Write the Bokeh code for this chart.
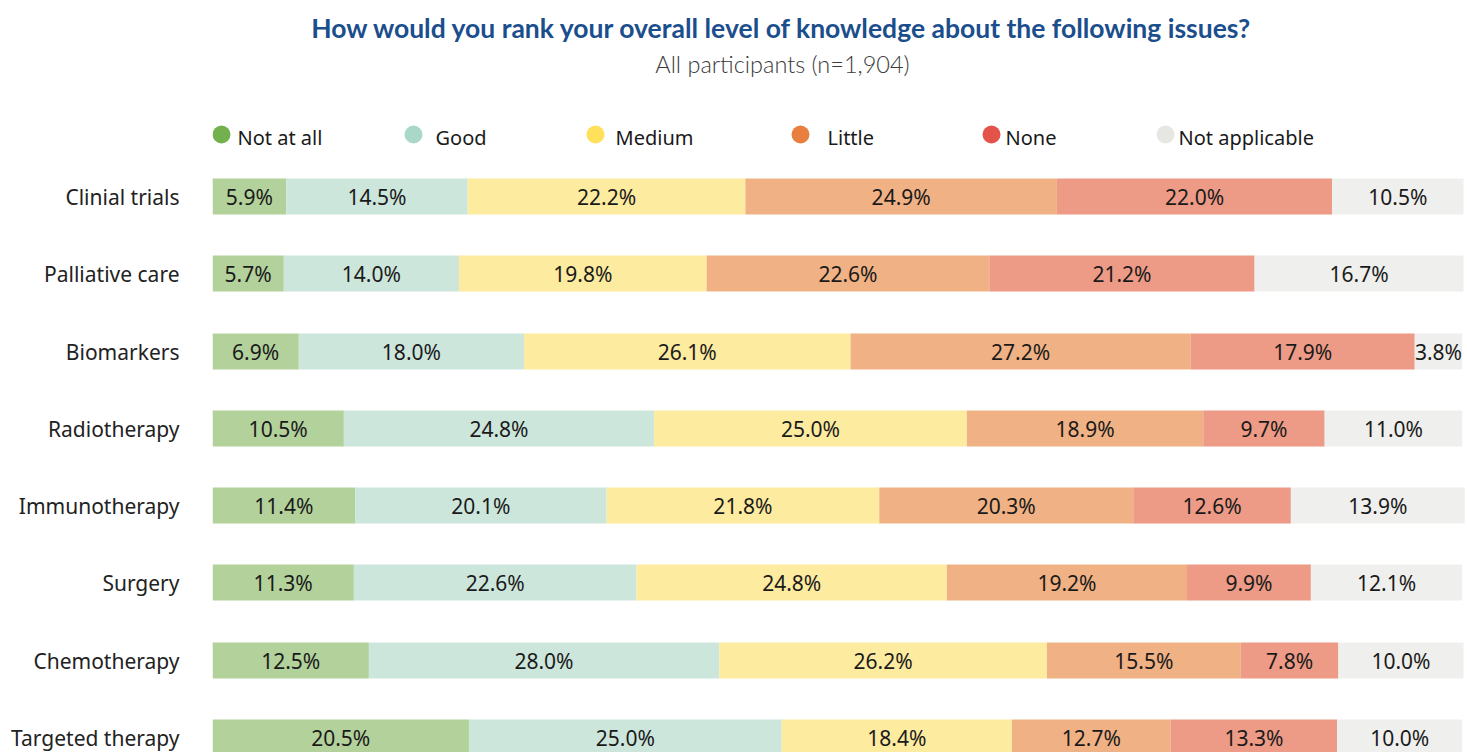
from bokeh.plotting import figure
from bokeh.models import Range1d, FixedTicker, ColumnDataSource
from bokeh.core.properties import value
from bokeh.embed import file_html
from bokeh.resources import INLINE

# ---------------- data ----------------
categories = ["Clinial trials", "Palliative care", "Biomarkers", "Radiotherapy",
              "Immunotherapy", "Surgery", "Chemotherapy", "Targeted therapy"]
levels = ["Not at all", "Good", "Medium", "Little", "None", "Not applicable"]
not_at_all = [5.9, 5.7, 6.9, 10.5, 11.4, 11.3, 12.5, 20.5]
good = [14.5, 14.0, 18.0, 24.8, 20.1, 22.6, 28.0, 25.0]
medium = [22.2, 19.8, 26.1, 25.0, 21.8, 24.8, 26.2, 18.4]
little = [24.9, 22.6, 27.2, 18.9, 20.3, 19.2, 15.5, 12.7]
none_ = [22.0, 21.2, 17.9, 9.7, 12.6, 9.9, 7.8, 13.3]
not_applicable = [10.5, 16.7, 3.8, 11.0, 13.9, 12.1, 10.0, 10.0]
series = [not_at_all, good, medium, little, none_, not_applicable]

title_text = "How would you rank your overall level of knowledge about the following issues?"
subtitle_text = "All participants (n=1,904)"

# ---------------- styles ----------------
bar_colors = ["#b3d19b", "#cde6dc", "#fdeba0", "#f0b184", "#ed9a86", "#efefed"]
legend_colors = ["#72b14e", "#a9d8c8", "#ffe05a", "#e97f3f", "#e3534a", "#e6e6e3"]
FONT = "Noto Sans"

W, H = 1467, 752
LEFT = 212
PX_PER_UNIT = 12.51
X_MAX = (W - LEFT) / PX_PER_UNIT


def px(page_x):
    """convert page pixel x to data x"""
    return (page_x - LEFT) / PX_PER_UNIT


def py(page_y):
    return page_y


ypos = [py(196) + round(i * 77.3) for i in range(len(categories))]

p = figure(width=W, height=H, x_range=Range1d(0, X_MAX), y_range=Range1d(H, 0),
           output_backend="svg", toolbar_location=None, x_axis_location=None,
           min_border_left=LEFT, min_border_right=0, min_border_top=0, min_border_bottom=0)
p.outline_line_color = None
p.grid.visible = False
p.background_fill_color = "white"
p.border_fill_color = "white"

# y axis with category labels
ax = p.yaxis[0]
ax.ticker = FixedTicker(ticks=ypos)
ax.major_label_overrides = {y: c for y, c in zip(ypos, categories)}
ax.axis_line_color = None
ax.major_tick_line_color = None
ax.minor_tick_line_color = None
ax.major_tick_in = 0
ax.major_tick_out = 0
ax.major_label_standoff = 33
ax.major_label_text_font = FONT
ax.major_label_text_font_size = "21px"
ax.major_label_text_color = "#222222"

# stacked bars
lefts = [0.0] * len(categories)
for lvl, vals, col in zip(levels, series, bar_colors):
    rights = [l + v for l, v in zip(lefts, vals)]
    src = ColumnDataSource(dict(y=ypos, left=lefts, right=rights,
                                mid=[(l + r) / 2 for l, r in zip(lefts, rights)],
                                lab=[f"{v:.1f}%" for v in vals]))
    p.hbar(y="y", left="left", right="right", height=36, source=src,
           fill_color=col, line_color=None)
    p.text(x="mid", y="y", text="lab", source=src, text_align="center",
           text_baseline="middle", text_font=value(FONT), text_font_size="21px",
           text_color="#1a1a1a")
    lefts = rights

# title & subtitle
p.text(x=[px(782)], y=[py(27)], text=[title_text], text_align="center",
       text_baseline="middle", text_font=value("Lato"), text_font_style="bold",
       text_font_size="26.5px", text_color="#1b4e8c")
p.text(x=[px(782)], y=[py(63)], text=[subtitle_text], text_align="center",
       text_baseline="middle", text_font=value("'Lato Light', Lato"), text_font_style="normal",
       text_font_size="23.5px", text_color="#3a3a3a")

# manual legend
dot_x = [221, 413, 595, 800, 991, 1165]
txt_x = [237, 435, 615, 827, 1005, 1178]
p.scatter(x=[px(v) for v in dot_x], y=[py(134)] * 6, size=18, marker="circle",
          fill_color=legend_colors, line_color=None)
p.text(x=[px(v) for v in txt_x], y=[py(137)] * 6, text=levels, text_align="left",
       text_baseline="middle", text_font=value(FONT), text_font_size="20px",
       text_color="#1a1a1a")

open("out.html", "w").write(file_html(p, INLINE))
